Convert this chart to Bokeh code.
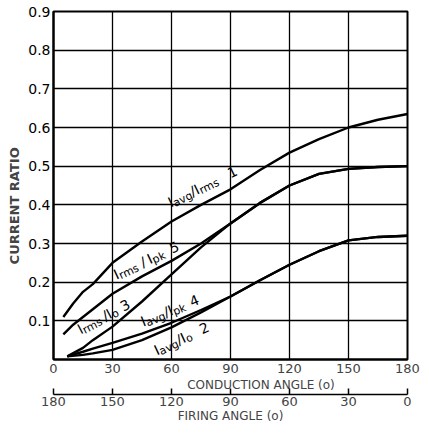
import numpy as np
from bokeh.plotting import figure
from bokeh.models import Range1d, LinearAxis, FixedTicker
from bokeh.embed import file_html
from bokeh.resources import INLINE
from bokeh.core.properties import value

# ---------------- data ----------------
conduction_ticks = [0, 30, 60, 90, 120, 150, 180]
firing_ticks = [0, 30, 60, 90, 120, 150, 180]
ratio_ticks = [0.1, 0.2, 0.3, 0.4, 0.5, 0.6, 0.7, 0.8, 0.9]

# 1: Iavg/Irms
c1_x = [5, 10, 15, 20, 30, 45, 60, 75, 90, 105, 120, 135, 150, 165, 180]
c1_y = [0.11, 0.145, 0.175, 0.195, 0.25, 0.305, 0.357, 0.40, 0.44, 0.49, 0.535, 0.57, 0.60, 0.62, 0.635]
# 5: Irms/Ipk
c5_x = [5, 10, 15, 20, 30, 45, 60, 75, 90, 105, 120, 135, 150, 165, 180]
c5_y = [0.065, 0.09, 0.11, 0.13, 0.17, 0.215, 0.255, 0.30, 0.352, 0.405, 0.45, 0.48, 0.493, 0.498, 0.50]
# 3: Irms/Io
c3_x = [7, 15, 20, 30, 45, 60, 75, 90, 105, 120, 135, 150, 165, 180]
c3_y = [0.008, 0.03, 0.05, 0.085, 0.15, 0.22, 0.29, 0.352, 0.405, 0.45, 0.48, 0.493, 0.498, 0.50]
# 4: Iavg/Ipk
c4_x = [7, 15, 20, 30, 45, 60, 75, 90, 105, 120, 135, 150, 165, 180]
c4_y = [0.008, 0.02, 0.028, 0.043, 0.067, 0.095, 0.128, 0.163, 0.205, 0.245, 0.28, 0.308, 0.317, 0.32]
# 2: Iavg/Io
c2_x = [7, 15, 20, 30, 45, 60, 75, 90, 105, 120, 135, 150, 165, 180]
c2_y = [0.008, 0.012, 0.016, 0.025, 0.05, 0.083, 0.122, 0.163, 0.205, 0.245, 0.28, 0.308, 0.317, 0.32]

# curve labels: (anchor x, anchor y, angle deg, parts)  parts: (text, kind, gap px)
labels = [
    (58.6, 0.405, 26, [("I", "m", 0), ("avg", "s", 0), ("/I", "m", 0), ("rms", "s", 0), ("1", "m", 12)]),
    (31.0, 0.218, 25, [("I", "m", 0), ("rms", "s", 0), ("/", "m", 4), ("I", "m", 3), ("pk", "s", 0), ("5", "m", 7)]),
    (12.6, 0.076, 28, [("I", "m", 0), ("rms", "s", 0), ("/I", "m", 3), ("o", "s", 0), ("3", "m", 5)]),
    (44.7, 0.097, 22, [("I", "m", 0), ("avg", "s", 0), ("/I", "m", 0), ("pk", "s", 0), ("4", "m", 6)]),
    (51.5, 0.022, 25, [("I", "m", 0), ("avg", "s", 0), ("/I", "m", 0), ("o", "s", 0), ("2", "m", 10)]),
]

FONT = "DejaVu Sans"
W_EM = {"I": 0.295, "a": 0.613, "v": 0.592, "g": 0.635, "/": 0.337, "r": 0.411,
        "m": 0.974, "s": 0.521, "p": 0.635, "k": 0.579, "o": 0.612, " ": 0.318}

def text_width(t, size):
    return sum(W_EM.get(ch, 0.636) for ch in t) * size

NB = "\u00a0"

p = figure(width=421, height=425, output_backend="svg", toolbar_location=None,
           x_range=Range1d(0, 180), y_range=Range1d(0, 0.9),
           min_border_left=53, min_border_right=14, min_border_top=11, min_border_bottom=0,
           background_fill_color="white", border_fill_color="white")

p.outline_line_color = "black"
p.outline_line_width = 2

# grid
p.xgrid.ticker = FixedTicker(ticks=conduction_ticks[1:-1])
p.ygrid.ticker = FixedTicker(ticks=ratio_ticks[:-1])
p.grid.grid_line_color = "black"
p.grid.grid_line_width = 1.3
p.grid.grid_line_alpha = 1.0

# y axis
ya = p.yaxis[0]
ya.ticker = FixedTicker(ticks=ratio_ticks)
ya.axis_label = "CURRENT RATIO" + NB * 9
ya.axis_label_text_font = FONT
ya.axis_label_text_font_size = "13px"
ya.axis_label_text_font_style = "bold"
ya.axis_label_standoff = 3
ya.major_label_text_font = FONT
ya.major_label_text_font_size = "14px"
ya.major_label_text_color = "black"
ya.major_label_standoff = 3
ya.major_tick_in = 0
ya.major_tick_out = 0
ya.minor_tick_line_color = None
ya.axis_line_width = 2

# primary x axis
xa = p.xaxis[0]
xa.ticker = FixedTicker(ticks=conduction_ticks)
xa.axis_label = NB * 16 + "CONDUCTION ANGLE (o)"
xa.axis_label_text_font = FONT
xa.axis_label_text_font_size = "12px"
xa.axis_label_text_font_style = "normal"
xa.axis_label_standoff = 2
xa.major_label_text_font = FONT
xa.major_label_text_font_size = "13px"
xa.major_label_standoff = 4
xa.major_tick_in = 0
xa.major_tick_out = 0
xa.minor_tick_line_color = None
xa.axis_line_width = 2

# secondary (firing angle) axis
p.extra_x_ranges = {"firing": Range1d(180, 0)}
fa = LinearAxis(x_range_name="firing", ticker=FixedTicker(ticks=firing_ticks))
fa.axis_label = "FIRING ANGLE (o)"
fa.axis_label_text_font = FONT
fa.axis_label_text_font_size = "12px"
fa.axis_label_text_font_style = "normal"
fa.axis_label_standoff = 0
fa.major_label_text_font = FONT
fa.major_label_text_font_size = "13px"
fa.major_label_standoff = 2
fa.major_tick_in = 6
fa.major_tick_out = 0
fa.major_tick_line_width = 1.5
fa.minor_tick_line_color = None
fa.axis_line_width = 1.5
p.add_layout(fa, "below")

# curves
for xs, ys in [(c1_x, c1_y), (c5_x, c5_y), (c3_x, c3_y), (c4_x, c4_y), (c2_x, c2_y)]:
    p.line(xs, ys, line_color="black", line_width=2.4)

# curve labels with subscripts
MAIN, SUB = 14, 11
for (lx, ly, ang, parts) in labels:
    a = np.radians(ang)
    ux, uy = np.cos(a), -np.sin(a)      # baseline direction (screen, y down)
    nx, ny = np.sin(a), np.cos(a)       # downward normal (screen)
    adv = 0.0
    for (t, kind, gap) in parts:
        adv += gap
        size = MAIN if kind == "m" else SUB
        drop = 0 if kind == "m" else 3
        xo = adv * ux + drop * nx
        yo = adv * uy + drop * ny
        p.text(x=[lx], y=[ly], text=[t], angle=a, x_offset=xo, y_offset=yo,
               text_font=value(FONT), text_font_size=f"{size}px", text_color="black",
               text_align="left", text_baseline="alphabetic")
        adv += text_width(t, size)

open("out.html", "w").write(file_html(p, INLINE))
